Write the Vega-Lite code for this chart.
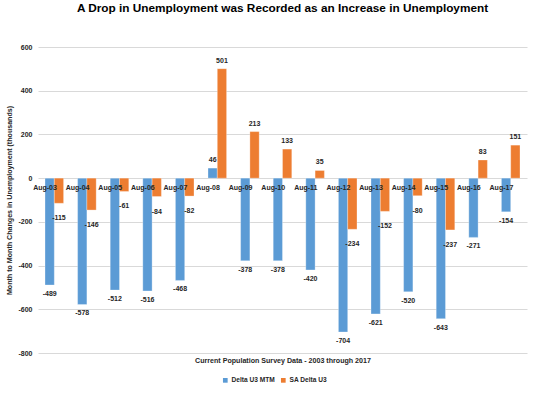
{
  "$schema": "https://vega.github.io/schema/vega-lite/v6.json",
  "width": 489,
  "height": 306,
  "autosize": {"type": "none"},
  "padding": {"left": 38, "top": 47, "right": 14, "bottom": 40},
  "background": "white",
  "config": {
    "font": "Liberation Sans",
    "view": {"stroke": null},
    "text": {"font": "Liberation Sans"}
  },
  "title": {
    "text": "A Drop in Unemployment was Recorded as an Increase in Unemployment",
    "font": "Liberation Sans",
    "fontSize": 11.8,
    "fontWeight": "bold",
    "color": "black",
    "anchor": "middle",
    "frame": "group",
    "offset": 28
  },
  "data": {
    "values": [
      {"month": "Aug-03", "series": "Delta U3 MTM", "value": -489},
      {"month": "Aug-04", "series": "Delta U3 MTM", "value": -578},
      {"month": "Aug-05", "series": "Delta U3 MTM", "value": -512},
      {"month": "Aug-06", "series": "Delta U3 MTM", "value": -516},
      {"month": "Aug-07", "series": "Delta U3 MTM", "value": -468},
      {"month": "Aug-08", "series": "Delta U3 MTM", "value": 46},
      {"month": "Aug-09", "series": "Delta U3 MTM", "value": -378},
      {"month": "Aug-10", "series": "Delta U3 MTM", "value": -378},
      {"month": "Aug-11", "series": "Delta U3 MTM", "value": -420},
      {"month": "Aug-12", "series": "Delta U3 MTM", "value": -704},
      {"month": "Aug-13", "series": "Delta U3 MTM", "value": -621},
      {"month": "Aug-14", "series": "Delta U3 MTM", "value": -520},
      {"month": "Aug-15", "series": "Delta U3 MTM", "value": -643},
      {"month": "Aug-16", "series": "Delta U3 MTM", "value": -271},
      {"month": "Aug-17", "series": "Delta U3 MTM", "value": -154},
      {"month": "Aug-03", "series": "SA Delta U3", "value": -115},
      {"month": "Aug-04", "series": "SA Delta U3", "value": -146},
      {"month": "Aug-05", "series": "SA Delta U3", "value": -61},
      {"month": "Aug-06", "series": "SA Delta U3", "value": -84},
      {"month": "Aug-07", "series": "SA Delta U3", "value": -82},
      {"month": "Aug-08", "series": "SA Delta U3", "value": 501},
      {"month": "Aug-09", "series": "SA Delta U3", "value": 213},
      {"month": "Aug-10", "series": "SA Delta U3", "value": 133},
      {"month": "Aug-11", "series": "SA Delta U3", "value": 35},
      {"month": "Aug-12", "series": "SA Delta U3", "value": -234},
      {"month": "Aug-13", "series": "SA Delta U3", "value": -152},
      {"month": "Aug-14", "series": "SA Delta U3", "value": -80},
      {"month": "Aug-15", "series": "SA Delta U3", "value": -237},
      {"month": "Aug-16", "series": "SA Delta U3", "value": 83},
      {"month": "Aug-17", "series": "SA Delta U3", "value": 151}
    ]
  },
  "encoding": {
    "x": {
      "field": "month",
      "type": "nominal",
      "sort": null,
      "scale": {"paddingInner": 0.43, "paddingOuter": 0.215},
      "axis": {
        "labels": false,
        "ticks": false,
        "domain": false,
        "title": "Current Population Survey Data - 2003 through 2017",
        "titleFont": "Liberation Sans",
        "titleFontSize": 7.1,
        "titleFontWeight": "bold",
        "titleColor": "#262626",
        "titlePadding": 3
      }
    },
    "xOffset": {"field": "series", "sort": ["Delta U3 MTM", "SA Delta U3"]},
    "y": {
      "field": "value",
      "type": "quantitative",
      "scale": {"domain": [-800, 600]},
      "axis": {
        "values": [-800, -600, -400, -200, 0, 200, 400, 600],
        "labelExpr": "'' + datum.value",
        "title": "Month to Month Changes in Unemployment (thousands)",
        "titleFont": "Liberation Sans",
        "titleFontSize": 7.1,
        "titleFontWeight": "bold",
        "titleColor": "#262626",
        "titlePadding": 5,
        "labelFont": "Liberation Sans",
        "labelFontSize": 7,
        "labelFontWeight": "bold",
        "labelColor": "#262626",
        "labelPadding": 6,
        "ticks": false,
        "domain": false,
        "gridColor": "#D9D9D9",
        "gridWidth": 1
      }
    }
  },
  "layer": [
    {
      "mark": {"type": "bar", "stroke": "white", "strokeWidth": 0.5, "strokeOpacity": 0.6},
      "encoding": {
        "color": {
          "field": "series",
          "type": "nominal",
          "scale": {"domain": ["Delta U3 MTM", "SA Delta U3"], "range": ["#5B9BD5", "#ED7D31"]},
          "legend": {
            "orient": "none",
            "legendX": 184,
            "legendY": 330,
            "direction": "horizontal",
            "title": null,
            "symbolType": "square",
            "symbolSize": 22,
            "symbolStrokeWidth": 0,
            "labelFont": "Liberation Sans",
            "labelFontSize": 6.6,
            "labelFontWeight": "bold",
            "labelColor": "#262626",
            "columnPadding": 5,
            "labelOffset": 3,
            "padding": 0
          }
        }
      }
    },
    {
      "transform": [{"filter": "datum.value < 0 && datum.series === 'Delta U3 MTM'"}],
      "mark": {"type": "text", "dy": 9, "fontSize": 7, "fontWeight": "bold", "color": "#262626"},
      "encoding": {"text": {"field": "value", "type": "nominal"}}
    },
    {
      "transform": [{"filter": "datum.value < 0 && datum.series === 'SA Delta U3'"}],
      "mark": {"type": "text", "dy": 15, "fontSize": 7, "fontWeight": "bold", "color": "#262626"},
      "encoding": {"text": {"field": "value", "type": "nominal"}}
    },
    {
      "transform": [{"filter": "datum.value >= 0"}],
      "mark": {"type": "text", "dy": -8, "fontSize": 7, "fontWeight": "bold", "color": "#262626"},
      "encoding": {"text": {"field": "value", "type": "nominal"}}
    },
    {
      "transform": [{"filter": "datum.series === 'Delta U3 MTM'"}],
      "mark": {"type": "text", "dy": 10, "fontSize": 7, "fontWeight": "bold", "color": "#262626"},
      "encoding": {
        "xOffset": {"value": 0},
        "y": {"datum": 0},
        "text": {"field": "month", "type": "nominal"}
      }
    },
    {
      "data": {"values": [{"note": "http://anxietea2016.blogspot.com/"}]},
      "mark": {"type": "text", "align": "left", "dx": -36, "fontSize": 6.8, "fontWeight": "bold", "color": "#262626"},
      "encoding": {
        "x": {"datum": "Aug-03"},
        "xOffset": {"value": 0},
        "y": {"datum": -928},
        "text": {"field": "note", "type": "nominal"}
      }
    },
    {
      "data": {"values": [{"note": "http://www.itstheeconomy.info/"}]},
      "mark": {"type": "text", "align": "right", "dx": 19, "fontSize": 7, "fontWeight": "bold", "color": "#262626"},
      "encoding": {
        "x": {"datum": "Aug-17"},
        "xOffset": {"value": 0},
        "y": {"datum": -928},
        "text": {"field": "note", "type": "nominal"}
      }
    }
  ]
}
